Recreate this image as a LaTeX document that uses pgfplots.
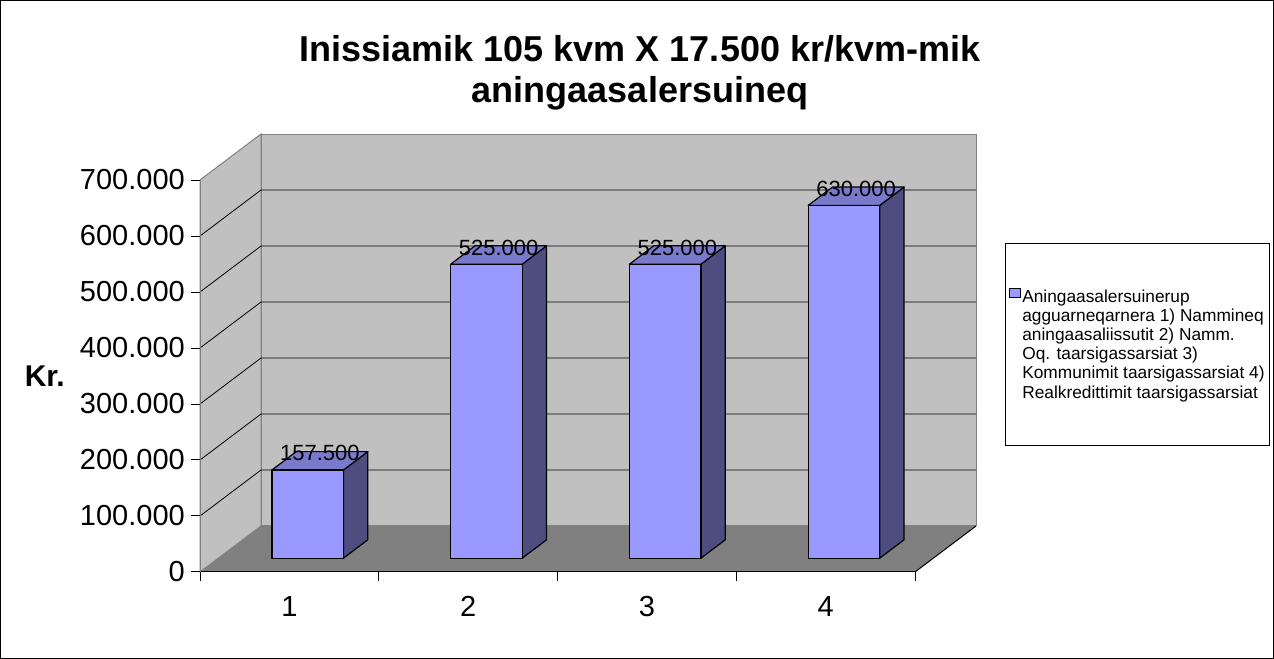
\documentclass[border=0pt]{standalone}
\usepackage{fontspec}
\setmainfont{Liberation Sans}
\usepackage{pgfplots}
\pgfplotsset{compat=1.18}
\usepackage{pgfplotstable}
\definecolor{barfront}{RGB}{153,153,255}
\definecolor{bartop}{RGB}{122,122,204}
\definecolor{barside}{RGB}{77,77,128}
\definecolor{wall}{RGB}{192,192,192}
\definecolor{floorc}{RGB}{128,128,128}
\definecolor{wallline}{RGB}{128,128,128}

\pgfplotstableread{
x h d
0 0 0
1 0 0
1 1 0
0 1 0
}\frontface
\pgfplotstableread{
x h d
0 1 0
1 1 0
1 1 1
0 1 1
}\topface
\pgfplotstableread{
x h d
1 0 0
1 1 0
1 1 1
1 0 1
}\sideface
\pgfplotstableread{
x v
0 157500
1 525000
2 525000
3 630000
}\bardata

\newcommand{\DX}{0.341259}
\newcommand{\DY}{82142.857}

\newcommand{\drawface}[4]{%
  \addplot[#1] table[x expr={#3+0.3+0.4*\thisrow{x}+(0.3+0.4*\thisrow{d})*\DX}, y expr={\thisrow{h}*#4+(0.3+0.4*\thisrow{d})*\DY}] {#2} -- cycle;
}
\newcommand{\drawbar}[2]{%
  \drawface{fill=barside,draw=black,line width=1.2bp,line join=round}{\sideface}{#1}{#2}
  \drawface{fill=bartop,draw=black,line width=1.2bp,line join=round}{\topface}{#1}{#2}
  \drawface{fill=barfront,draw=black,line width=1.2bp,line join=round}{\frontface}{#1}{#2}
}

\begin{document}
\begin{tikzpicture}
\useasboundingbox (0,0) rectangle (1274bp,659bp);
\begin{axis}[
  at={(200bp,87bp)}, anchor=south west,
  scale only axis, width=715bp, height=392bp,
  xmin=0, xmax=4, ymin=0, ymax=700000,
  clip=false, axis on top,
  axis x line=bottom, axis y line=left,
  x axis line style={black, line width=1bp, -},
  y axis line style={wallline, line width=1bp, -},
  xtick={0,1,2,3,4}, xticklabels={{},{},{},{},{}},
  extra x ticks={0.5,1.5,2.5,3.5}, extra x tick labels={1,2,3,4},
  extra x tick style={tick style={draw=none}},
  ytick={0,100000,...,700000},
  tick style={black, line width=1bp},
  tick align=outside, major tick length=9bp,
  scaled y ticks=false,
  /pgf/number format/fixed,
  /pgf/number format/precision=0,
  /pgf/number format/1000 sep={.},
  /pgf/number format/assume math mode=true,
  tick label style={font=\fontsize{29bp}{34bp}\selectfont, inner sep=0pt},
  yticklabel style={xshift=-6bp},
  xticklabel style={yshift=-15bp},
  ylabel={Kr.},
  every axis y label/.style={at={(rel axis cs:0,0.5)}, anchor=east, xshift=-135bp, font=\bfseries\fontsize{30bp}{36bp}\selectfont, inner sep=0pt},
  legend style={at={(rel axis cs:1.1259,0.8393)}, anchor=north west, draw=black, line width=1bp, fill=white,
    font=\fontsize{17.3bp}{19.2bp}\selectfont, inner xsep=3bp, inner ysep=44bp, cells={align=left},
    /tikz/every even column/.append style={column sep=3bp}},
  legend cell align=left,
  legend image code/.code={\draw[fill=barfront, draw=black, line width=0.8bp] (0bp,47.5bp) rectangle (11bp,56.5bp);},
]
% back wall
\addplot[fill=wall, draw=wallline, line width=1bp] coordinates {(0.341259,82142.857) (4.341259,82142.857) (4.341259,782142.857) (0.341259,782142.857)} -- cycle;
% left wall
\addplot[fill=wall, draw=wallline, line width=1bp] coordinates {(0,0) (0.341259,82142.857) (0.341259,782142.857) (0,700000)} -- cycle;
% floor
\addplot[fill=floorc, draw=none] coordinates {(0,0) (4,0) (4.341259,82142.857) (0.341259,82142.857)} -- cycle;
\addplot[black, line width=1bp] coordinates {(4,0) (4.341259,82142.857)};
% gridlines
\addplot[black, line width=0.8bp] coordinates {(0,100000) (0.341259,182142.857) (4.341259,182142.857)};
\addplot[black, line width=0.8bp] coordinates {(0,200000) (0.341259,282142.857) (4.341259,282142.857)};
\addplot[black, line width=0.8bp] coordinates {(0,300000) (0.341259,382142.857) (4.341259,382142.857)};
\addplot[black, line width=0.8bp] coordinates {(0,400000) (0.341259,482142.857) (4.341259,482142.857)};
\addplot[black, line width=0.8bp] coordinates {(0,500000) (0.341259,582142.857) (4.341259,582142.857)};
\addplot[black, line width=0.8bp] coordinates {(0,600000) (0.341259,682142.857) (4.341259,682142.857)};
% bars
\drawbar{0}{157500}
\drawbar{1}{525000}
\drawbar{2}{525000}
\drawbar{3}{630000}
% data labels
\addplot[draw=none, nodes near coords, point meta=\thisrow{v},
  every node near coord/.style={anchor=base, inner sep=0pt, black, font=\fontsize{22bp}{26bp}\selectfont}]
  table[x expr=\thisrow{x}+0.5+0.5*\DX, y expr=\thisrow{v}+0.5*\DY] {\bardata};
\addlegendimage{area legend, fill=barfront, draw=black}
\addlegendentry{Aningaasalersuinerup\\agguarneqarnera 1) Nammineq\\aningaasaliissutit 2) Namm.\\Oq. taarsigassarsiat 3)\\Kommunimit taarsigassarsiat 4)\\Realkredittimit taarsigassarsiat}
\end{axis}
\node[anchor=north, align=center, inner sep=0pt, font=\bfseries\fontsize{36bp}{41bp}\selectfont] at (640bp,624bp) {Inissiamik 105 kvm X 17.500 kr/kvm-mik\\aningaasalersuineq};
\draw[line width=1bp] (0.5bp,0.5bp) rectangle (1273.5bp,658.5bp);
\end{tikzpicture}
\end{document}
